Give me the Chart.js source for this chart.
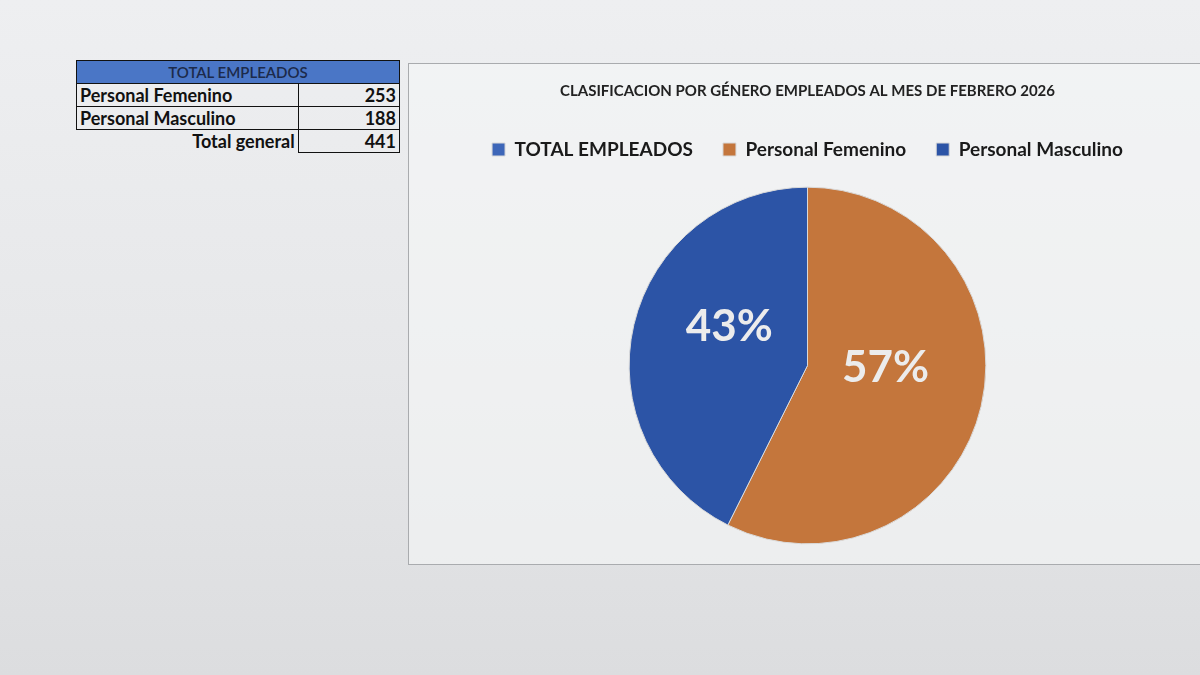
<!DOCTYPE html>
<html>
<head>
<meta charset="utf-8">
<script src="https://cdn.jsdelivr.net/npm/chart.js@4.4.1/dist/chart.umd.min.js"></script>
<style>
  html, body { margin: 0; padding: 0; }
  body {
    width: 1200px; height: 675px; overflow: hidden; position: relative;
    background: linear-gradient(180deg, #eeeff1 0%, #e6e7e9 55%, #dcdddf 100%);
    font-family: Lato, "Open Sans", sans-serif;
  }
  #tbl {
    position: absolute; left: 76px; top: 60px;
    border-collapse: collapse; font-size: 18px; color: #111;
  }
  #tbl td { padding: 0 3px; height: 22px; line-height: 20px; }
  #tbl .head { background: #4a76c6; color: #1c2a4a; text-align: center; font-size: 15px; font-weight: 600;
               border: 1.5px solid #111; width: 316px; }
  #tbl .lab { font-weight: bold; border-left: 1.5px solid #111; border-bottom: 1.5px solid #111; width: 214px; }
  #tbl .val { font-weight: bold; text-align: right; border: 1.5px solid #111; width: 94px; }
  #tbl .tot { font-weight: bold; text-align: right; }
  #box {
    position: absolute; left: 408px; top: 63px; width: 792px; height: 502px;
    border: 1px solid #a9abae; border-right: none; box-sizing: border-box;
    background: rgba(245,246,247,0.6);
  }
</style>
</head>
<body>
<table id="tbl">
  <tr><td class="head" colspan="2">TOTAL EMPLEADOS</td></tr>
  <tr><td class="lab" id="l0"></td><td class="val" id="v0"></td></tr>
  <tr><td class="lab" id="l1"></td><td class="val" id="v1"></td></tr>
  <tr><td class="tot">Total general</td><td class="val" id="vt"></td></tr>
</table>
<div id="box"><canvas id="genChart"></canvas></div>
<script>
// data read from the printed sheet
const categories = ['TOTAL EMPLEADOS', 'Personal Femenino', 'Personal Masculino'];
const employees = [null, 253, 188];
const sliceColors = ['#3d66b8', '#c4763c', '#2c54a6'];

// fill the little table from the same arrays
document.getElementById('l0').textContent = categories[1];
document.getElementById('l1').textContent = categories[2];
document.getElementById('v0').textContent = employees[1];
document.getElementById('v1').textContent = employees[2];
document.getElementById('vt').textContent = employees[1] + employees[2];

// percent labels inside the slices
const pctLabels = {
    id: 'pctLabels',
    afterDatasetsDraw(chart) {
        const ctx = chart.ctx;
        const meta = chart.getDatasetMeta(0);
        const vals = chart.data.datasets[0].data;
        const total = vals.reduce((a, b) => a + (b || 0), 0);
        ctx.save();
        ctx.font = 'bold 44px Lato';
        ctx.fillStyle = '#ececec';
        ctx.textAlign = 'center';
        ctx.textBaseline = 'middle';
        meta.data.forEach((arc, i) => {
            if (!vals[i]) return;
            const p = arc.getProps(['x', 'y', 'startAngle', 'endAngle', 'outerRadius'], true);
            const mid = (p.startAngle + p.endAngle) / 2;
            const r = p.outerRadius * 0.5;
            // Excel's best-fit placement sits a little higher than the mid-radius point
            ctx.fillText(Math.round(vals[i] / total * 100) + '%',
                p.x + Math.cos(mid) * r * 0.9, p.y + Math.sin(mid) * r - p.outerRadius * 0.1);
        });
        ctx.restore();
    }
};

const ctx = document.getElementById('genChart').getContext('2d');
new Chart(ctx, {
    type: 'pie',
    data: {
        labels: categories,
        datasets: [{
            data: employees,
            backgroundColor: sliceColors,
            borderColor: '#d9d9d9',
            borderWidth: 1,
            radius: '91%'
        }]
    },
    options: {
        responsive: true,
        maintainAspectRatio: false,
        animation: false,
        layout: { padding: { left: 6, bottom: 2 } },
        plugins: {
            title: {
                display: true,
                text: 'CLASIFICACION POR GÉNERO EMPLEADOS AL MES DE FEBRERO 2026',
                color: '#222',
                font: { family: 'Lato', size: 15, weight: 'bold' },
                padding: { top: 18, bottom: 10 }
            },
            legend: {
                position: 'top',
                labels: {
                    color: '#1a1a1a',
                    font: { family: 'Lato', size: 19, weight: 'bold' },
                    boxWidth: 13,
                    boxHeight: 13,
                    padding: 30
                }
            },
            tooltip: { enabled: false }
        }
    },
    plugins: [pctLabels]
});
</script>
</body>
</html>
